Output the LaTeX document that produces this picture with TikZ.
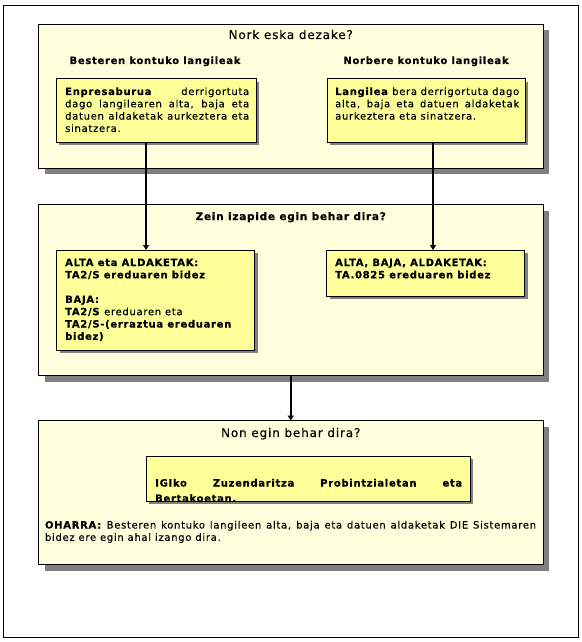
\documentclass[tikz,border=0pt]{standalone}
\usepackage{fontspec}
\setmainfont{DejaVu Sans}[LetterSpace=7, FakeBold=0.3]
\usetikzlibrary{arrows.meta,shadows}
\definecolor{paleY}{HTML}{FFFFDD}
\definecolor{innerY}{HTML}{FFFF99}
\definecolor{shGray}{HTML}{808080}
\begin{document}
\begin{tikzpicture}[x=1bp,y=-1bp,
  frame/.style={draw=black, line width=1bp, anchor=north west, inner sep=0pt, outer sep=0pt},
  bigbox/.style={draw=black, line width=1bp, fill=paleY, anchor=north west, inner sep=0pt, outer sep=0pt,
    drop shadow={shadow xshift=6bp, shadow yshift=-6bp, fill=shGray, opacity=1}},
  smallbox/.style={draw=black, line width=1bp, fill=innerY, anchor=north west, inner sep=0pt, outer sep=0pt,
    drop shadow={shadow xshift=3bp, shadow yshift=-3bp, fill=shGray, opacity=1}},
  ttl/.style={anchor=base, inner sep=0pt, font=\fontsize{12bp}{14bp}\selectfont},
  ttlb/.style={anchor=base, inner sep=0pt, font=\fontsize{10.5bp}{12.3bp}\selectfont\bfseries},
  sub/.style={anchor=base, inner sep=0pt, font=\fontsize{10bp}{12.3bp}\selectfont\bfseries},
  txt/.style={anchor=base west, inner sep=0pt, font=\fontsize{10bp}{12.3bp}\selectfont},
  arr/.style={line width=2bp, -{Triangle[width=6bp,length=5bp]}}]
\useasboundingbox (0,0) rectangle (582,642);
\fill[white] (0,0) rectangle (582,642);
\node[frame, minimum width=575bp, minimum height=631bp] (fr) at (3,6) {};

% big boxes
\node[bigbox, minimum width=504.5bp, minimum height=143.5bp] (b1) at (38.5,24.5) {};
\node[bigbox, minimum width=504.5bp, minimum height=171bp] (b2) at (38.5,204.5) {};
\node[bigbox, minimum width=504.5bp, minimum height=144bp] (b3) at (38.5,420.5) {};

% inner boxes
\node[smallbox, minimum width=200bp, minimum height=63bp] (b1l) at (56,79) {};
\node[smallbox, minimum width=198bp, minimum height=63bp] (b1r) at (327,79) {};
\node[smallbox, minimum width=198bp, minimum height=100bp] (b2l) at (56.5,250) {};
\node[smallbox, minimum width=198bp, minimum height=46bp] (b2r) at (326.5,250) {};
\node[smallbox, minimum width=324bp, minimum height=45bp] (b3i) at (146,456) {};

% box 1 texts
\node[ttl] (t1) at (290.75,39) {Nork eska dezake?};
\node[sub] (s1l) at (155,64) {Besteren kontuko langileak};
\node[sub] (s1r) at (426,64) {Norbere kontuko langileak};
\node[txt] (x1l) at (65,95) {\parbox[t]{184bp}{%
\makebox[\linewidth][s]{\textbf{Enpresaburua} derrigortuta}\\
\makebox[\linewidth][s]{dago langilearen alta, baja eta}\\
\makebox[\linewidth][s]{datuen aldaketak aurkeztera eta}\\
sinatzera.}};
\node[txt] (x1r) at (335,95) {\parbox[t]{184bp}{%
\makebox[\linewidth][s]{\textbf{Langilea} bera derrigortuta dago}\\
\makebox[\linewidth][s]{alta, baja eta datuen aldaketak}\\
aurkeztera eta sinatzera.}};

% box 2 texts
\node[ttlb] (t2) at (290.75,220) {Zein izapide egin behar dira?};
\node[txt] (x2l) at (65,266) {\parbox[t]{185bp}{%
\textbf{ALTA eta ALDAKETAK:}\\
\textbf{TA2/S ereduaren bidez}\\[12.3bp]
\textbf{BAJA:}\\
\textbf{TA2/S} ereduaren eta\\
\textbf{TA2/S-(erraztua ereduaren}\\
\textbf{bidez)}}};
\node[txt] (x2r) at (335,266) {\parbox[t]{185bp}{%
\textbf{ALTA, BAJA, ALDAKETAK:}\\
\textbf{TA.0825 ereduaren bidez}}};

% box 3 texts
\node[ttl] (t3) at (290.75,437) {Non egin behar dira?};
\begin{scope}
\clip (b3i.north west) rectangle (b3i.south east);
\node[txt] (x3i) at (155,486.5) {\parbox[t]{307bp}{\bfseries
\makebox[\linewidth][s]{IGIko Zuzendaritza Probintzialetan eta}\\[3bp]
Bertakoetan.}};
\end{scope}
\draw[line width=1bp] (b3i.north west) rectangle (b3i.south east);
\node[txt] (x3n) at (44.8,528.5) {\parbox[t]{491bp}{%
\makebox[\linewidth][s]{\textbf{OHARRA:} Besteren kontuko langileen alta, baja eta datuen aldaketak DIE Sistemaren}\\
bidez ere egin ahal izango dira.}};

% connectors
\draw[arr] ([xshift=-10bp]b1l.south) -- ([xshift=-10bp]b1l.south |- b2l.north);
\draw[arr] ([xshift=7bp]b1r.south) -- ([xshift=7bp]b1r.south |- b2r.north);
\draw[arr] (b2.south) -- (b3.north);
\end{tikzpicture}
\end{document}
